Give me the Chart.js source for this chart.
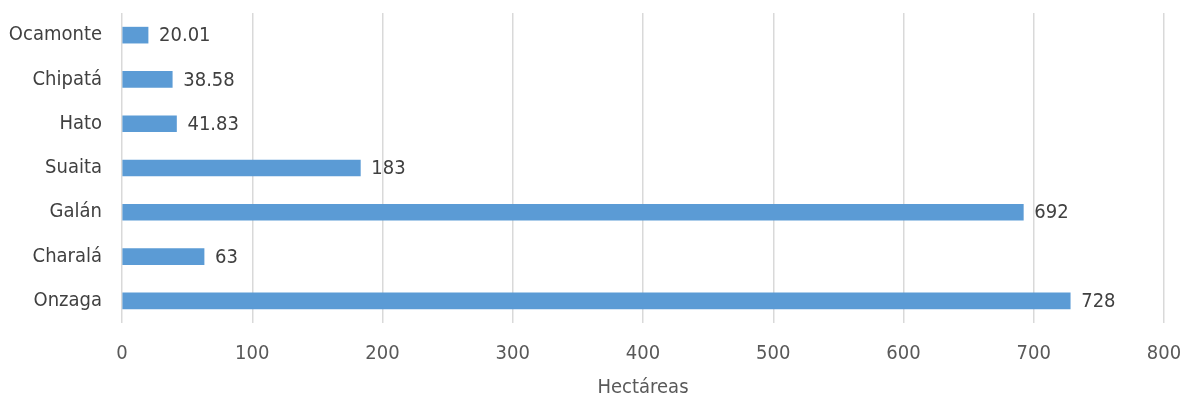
<!DOCTYPE html>
<html>
<head>
<meta charset="utf-8">
<script src="https://cdn.jsdelivr.net/npm/chart.js@4"></script>
<style>
  html, body { margin: 0; padding: 0; background: #fff; }
  #wrap { width: 1181px; height: 400px; }
</style>
</head>
<body>
<div id="wrap"><canvas id="barChart"></canvas></div>
<script>
const categories = ["Ocamonte", "Chipatá", "Hato", "Suaita", "Galán", "Charalá", "Onzaga"];
const hectares = [20.01, 38.58, 41.83, 183, 692, 63, 728];
const valueLabels = ["20.01", "38.58", "41.83", "183", "692", "63", "728"];

const FONT = "'DejaVu Sans Condensed', 'Liberation Sans Narrow', 'Arial Narrow', sans-serif";

// etiquetas de valor al final de cada barra
const barLabels = {
    id: "barLabels",
    afterDatasetsDraw(chart) {
        const ctx = chart.ctx;
        const meta = chart.getDatasetMeta(0);
        ctx.save();
        ctx.font = "20px " + FONT;
        ctx.fillStyle = "#404040";
        ctx.textAlign = "left";
        ctx.textBaseline = "middle";
        meta.data.forEach((bar, i) => {
            ctx.fillText(valueLabels[i], bar.x + 11, bar.y + 1);
        });
        ctx.restore();
    }
};

new Chart(document.getElementById("barChart"), {
    type: "bar",
    data: {
        labels: categories,
        datasets: [{
            data: hectares,
            backgroundColor: "#5b9bd5",
            barThickness: 16
        }]
    },
    options: {
        indexAxis: "y",
        responsive: true,
        maintainAspectRatio: false,
        animation: false,
        layout: { padding: { top: 13, right: 17, left: 0, bottom: 0 } },
        plugins: {
            legend: { display: false },
            tooltip: { enabled: false }
        },
        scales: {
            x: {
                min: 0,
                max: 800,
                ticks: {
                    stepSize: 100,
                    color: "#595959",
                    font: { family: FONT, size: 20 },
                    padding: 19
                },
                grid: {
                    color: "#d9d9d9",
                    lineWidth: 1.5,
                    drawTicks: false
                },
                border: { display: false },
                title: {
                    display: true,
                    text: "Hectáreas",
                    color: "#595959",
                    font: { family: FONT, size: 20 },
                    padding: { top: 6, bottom: 0 }
                },
                afterFit(scale) {
                    scale.height = 77;
                    scale.paddingLeft = 0;
                    scale.paddingRight = 0;
                }
            },
            y: {
                ticks: {
                    color: "#404040",
                    font: { family: FONT, size: 20 },
                    padding: 20
                },
                grid: { display: false, drawTicks: false },
                border: { display: false },
                afterFit(scale) {
                    scale.width = 122;
                    scale.paddingTop = 0;
                    scale.paddingBottom = 0;
                }
            }
        }
    },
    plugins: [barLabels]
});
</script>
</body>
</html>
